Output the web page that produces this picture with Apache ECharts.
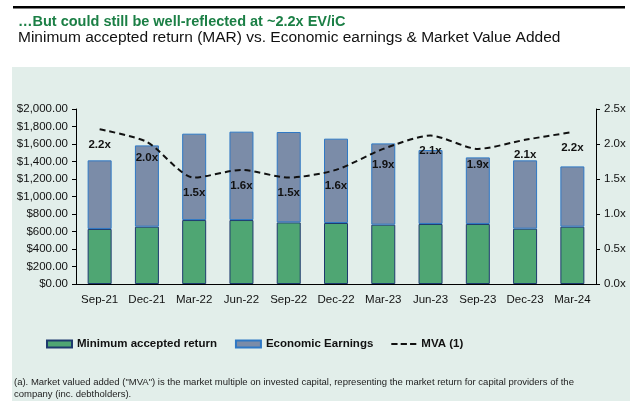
<!DOCTYPE html>
<html>
<head>
<meta charset="utf-8">
<script src="https://cdn.jsdelivr.net/npm/echarts@6/dist/echarts.min.js"></script>
<style>
html,body{margin:0;padding:0;background:#fff;}
#c{width:640px;height:412px;}
</style>
</head>
<body>
<div id="c"></div>
<script>
const categories = ['Sep-21','Dec-21','Mar-22','Jun-22','Sep-22','Dec-22','Mar-23','Jun-23','Sep-23','Dec-23','Mar-24'];
const minAcceptedReturn = [629, 655, 731, 731, 704, 697, 678, 686, 686, 632, 655];
const economicEarnings = [784, 929, 987, 1010, 1033, 964, 929, 845, 761, 781, 689];
const mva = [2.21, 2.03, 1.52, 1.63, 1.52, 1.63, 1.93, 2.12, 1.93, 2.06, 2.17];
const leftTicks = {min: 0, max: 2000, interval: 200};
const rightTicks = {min: 0, max: 2.5, interval: 0.5};

const FONT = '"Liberation Sans", Arial, sans-serif';
const chart = echarts.init(document.getElementById('c'), null, {renderer: 'canvas'});

chart.setOption({
  animation: false,
  textStyle: {fontFamily: FONT},
  graphic: [
    {type: 'rect', z: -10, shape: {x: 12, y: 67, width: 618, height: 334}, style: {fill: '#E2EEEA'}},
    {type: 'rect', shape: {x: 13, y: 6, width: 612, height: 2.5}, style: {fill: '#000'}},
    {type: 'text', left: 18, top: 14, style: {text: '\u2026But could still be well-reflected at ~2.2x EV/iC', fill: '#1B7F45', font: 'bold 14.5px ' + FONT}},
    {type: 'text', left: 18, top: 29.5, style: {text: 'Minimum accepted return (MAR) vs. Economic earnings & Market Value Added', fill: '#111', font: '15.5px ' + FONT}},
    {type: 'text', left: 14, top: 377, style: {text: '(a). Market valued added ("MVA") is the market multiple on invested capital, representing the market return for capital providers of the', fill: '#222', font: '9.5px ' + FONT}},
    {type: 'text', left: 14, top: 389, style: {text: 'company (inc. debtholders).', fill: '#222', font: '9.5px ' + FONT}}
  ],
  legend: {
    top: 333,
    left: 41,
    itemWidth: 25,
    itemHeight: 7,
    itemGap: 18,
    textStyle: {fontFamily: FONT, fontWeight: 'bold', fontSize: 11.5, color: '#111'},
    data: [
      {name: 'Minimum accepted return', icon: 'rect'},
      {name: 'Economic Earnings', icon: 'rect'},
      {name: 'MVA (1)', icon: 'path://M0,0h6v2h-6z M9,0h6v2h-6z M18,0h6v2h-6z', itemStyle: {color: '#111', borderWidth: 0}}
    ]
  },
  grid: {left: 76, right: 44, top: 109, bottom: 128},
  xAxis: {
    type: 'category',
    data: categories,
    axisLine: {lineStyle: {color: '#000', width: 1}},
    axisTick: {show: false},
    axisLabel: {color: '#111', fontSize: 11.5, margin: 10, interval: 0}
  },
  yAxis: [
    {
      type: 'value', min: leftTicks.min, max: leftTicks.max, interval: leftTicks.interval,
      splitLine: {show: false},
      axisLine: {show: true, lineStyle: {color: '#000'}},
      axisTick: {show: true, length: 4, lineStyle: {color: '#000'}},
      axisLabel: {color: '#111', fontSize: 11.5, margin: 8,
        formatter: v => '$' + v.toLocaleString('en-US', {minimumFractionDigits: 2, maximumFractionDigits: 2})}
    },
    {
      type: 'value', min: rightTicks.min, max: rightTicks.max, interval: rightTicks.interval,
      splitLine: {show: false},
      axisLine: {show: true, lineStyle: {color: '#000'}},
      axisTick: {show: true, length: 4, lineStyle: {color: '#000'}},
      axisLabel: {color: '#111', fontSize: 11.5, margin: 8, formatter: v => v.toFixed(1) + 'x'}
    }
  ],
  series: [
    {
      name: 'Minimum accepted return', type: 'bar', stack: 'a', barWidth: 24,
      data: minAcceptedReturn,
      itemStyle: {color: '#4FA673', borderColor: '#1E3A6E', borderWidth: 1}
    },
    {
      name: 'Economic Earnings', type: 'bar', stack: 'a', barWidth: 24,
      data: economicEarnings,
      itemStyle: {color: '#7B8CA8', borderColor: '#2F78C4', borderWidth: 1}
    },
    {
      name: 'MVA (1)', type: 'line', yAxisIndex: 1, data: mva,
      smooth: 0.25, symbol: 'circle', symbolSize: 1, showSymbol: true, z: 5,
      lineStyle: {color: '#111', width: 2, type: [6, 4]},
      itemStyle: {color: 'rgba(0,0,0,0)'},
      label: {show: true, position: 'bottom', distance: 9, color: '#111', fontWeight: 'bold', fontSize: 11.5,
        formatter: p => p.value.toFixed(1) + 'x'}
    }
  ]
});
</script>
</body>
</html>
